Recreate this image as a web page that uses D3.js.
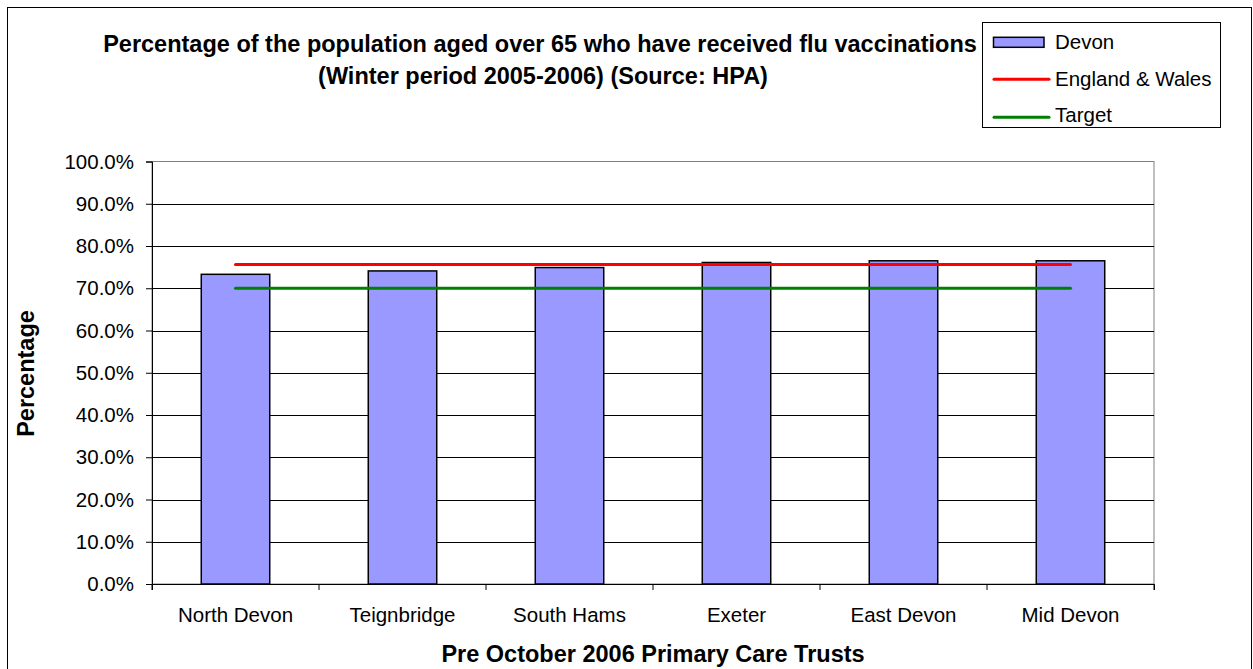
<!DOCTYPE html>
<html>
<head>
<meta charset="utf-8">
<script src="https://cdn.jsdelivr.net/npm/d3@7"></script>
<style>
  body { margin: 0; background: #fff; }
  svg { display: block; font-family: "Liberation Sans", Arial, sans-serif; }
</style>
</head>
<body>
<svg id="chart" width="1253" height="669"></svg>
<script>
// Flu vaccination uptake, over-65s, winter 2005-2006
const categories = ["North Devon", "Teignbridge", "South Hams", "Exeter", "East Devon", "Mid Devon"];
const devonValues = [73.3, 74.1, 74.9, 76.1, 76.5, 76.5];
const englandWales = [75.6, 75.6, 75.6, 75.6, 75.6, 75.6];
const target = [70.0, 70.0, 70.0, 70.0, 70.0, 70.0];
const yTicks = [0, 10, 20, 30, 40, 50, 60, 70, 80, 90, 100];
const legendItems = ["Devon", "England & Wales", "Target"];

const FONT = "Liberation Sans, Arial, sans-serif";
const svg = d3.select("#chart");
const plot = { left: 152, right: 1154, top: 161.5, bottom: 584 };

// outer chart frame
svg.append("rect")
  .attr("x", 7.5).attr("y", 7.5)
  .attr("width", 1244).attr("height", 670)
  .attr("fill", "#fff").attr("stroke", "#000").attr("stroke-width", 1);

const x = d3.scaleBand().domain(categories).range([plot.left, plot.right]).paddingInner(0.59).paddingOuter(0.295);
const xc = d3.scaleBand().domain(categories).range([plot.left, plot.right]);
const y = d3.scaleLinear().domain([0, 100]).range([plot.bottom, plot.top]);

// plot area border
svg.append("rect")
  .attr("x", plot.left).attr("y", plot.top)
  .attr("width", plot.right - plot.left).attr("height", plot.bottom - plot.top)
  .attr("fill", "none").attr("stroke", "#808080").attr("stroke-width", 1);

// horizontal gridlines
svg.append("g").selectAll("line").data(yTicks.filter(t => t > 0 && t < 100)).join("line")
  .attr("x1", plot.left).attr("x2", plot.right)
  .attr("y1", d => Math.round(y(d)) + 0.5).attr("y2", d => Math.round(y(d)) + 0.5)
  .attr("stroke", "#000").attr("stroke-width", 1);

// y axis
const yAxis = d3.axisLeft(y).tickValues(yTicks).tickSize(6).tickPadding(12)
  .tickFormat(d => d.toFixed(1) + "%");
const gy = svg.append("g").attr("transform", `translate(${plot.left},0)`).call(yAxis);
gy.attr("font-family", FONT).attr("font-size", 20.5);
gy.select(".domain").attr("stroke", "#000");
gy.selectAll(".tick line").attr("stroke", "#000");
gy.selectAll(".tick text").attr("fill", "#000");

// x axis
const xAxis = d3.axisBottom(xc).tickSize(6).tickPadding(17.5);
const gx = svg.append("g").attr("transform", `translate(0,${plot.bottom})`).call(xAxis);
gx.attr("font-family", FONT).attr("font-size", 20.5);
gx.select(".domain").attr("stroke", "#000");
gx.selectAll(".tick line").attr("stroke", "#000")
  .attr("transform", `translate(${xc.bandwidth() / 2},0)`);
gx.selectAll(".tick text").attr("fill", "#000");
// boundary tick at the left end of the category axis
svg.append("line")
  .attr("x1", plot.left).attr("x2", plot.left)
  .attr("y1", plot.bottom).attr("y2", plot.bottom + 6).attr("stroke", "#000");

// bars
svg.append("g").selectAll("rect").data(devonValues).join("rect")
  .attr("x", (d, i) => x(categories[i]))
  .attr("y", d => y(d))
  .attr("width", x.bandwidth())
  .attr("height", d => y(0) - y(d))
  .attr("fill", "#9999FF")
  .attr("stroke", "#000").attr("stroke-width", 1.5);

// reference lines
const line = d3.line()
  .x((d, i) => xc(categories[i]) + xc.bandwidth() / 2)
  .y(d => y(d));
svg.append("path").datum(englandWales).attr("d", line)
  .attr("fill", "none").attr("stroke", "#FF0000").attr("stroke-width", 3).attr("stroke-linecap", "round");
svg.append("path").datum(target).attr("d", line)
  .attr("fill", "none").attr("stroke", "#008000").attr("stroke-width", 3).attr("stroke-linecap", "round");

// title
const title = svg.append("text").attr("text-anchor", "middle")
  .attr("font-weight", "bold").attr("font-size", 23.5).attr("fill", "#000");
title.append("tspan").attr("x", 540).attr("y", 52)
  .text("Percentage of the population aged over 65 who have received flu vaccinations");
title.append("tspan").attr("x", 543).attr("y", 84)
  .text("(Winter period 2005-2006) (Source: HPA)");

// axis titles
svg.append("text").attr("x", (plot.left + plot.right) / 2).attr("y", 662)
  .attr("text-anchor", "middle").attr("font-weight", "bold").attr("font-size", 23.5)
  .text("Pre October 2006 Primary Care Trusts");
svg.append("text").attr("transform", "translate(33.5,373.5) rotate(-90)")
  .attr("text-anchor", "middle").attr("font-weight", "bold").attr("font-size", 23.5)
  .text("Percentage");

// legend
const lg = svg.append("g");
lg.append("rect").attr("x", 982.5).attr("y", 22.5).attr("width", 238).attr("height", 105)
  .attr("fill", "#fff").attr("stroke", "#000").attr("stroke-width", 1);
const rowY = [42.3, 79.3, 117.3];
lg.append("rect").attr("x", 993.5).attr("y", rowY[0] - 5).attr("width", 50.5).attr("height", 10)
  .attr("fill", "#9999FF").attr("stroke", "#000").attr("stroke-width", 1.5);
lg.append("line").attr("x1", 994).attr("x2", 1049).attr("y1", rowY[1]).attr("y2", rowY[1])
  .attr("stroke", "#FF0000").attr("stroke-width", 3).attr("stroke-linecap", "round");
lg.append("line").attr("x1", 994).attr("x2", 1049).attr("y1", rowY[2]).attr("y2", rowY[2])
  .attr("stroke", "#008000").attr("stroke-width", 3).attr("stroke-linecap", "round");
lg.selectAll("text.item").data(legendItems).join("text")
  .attr("class", "item")
  .attr("x", 1055).attr("y", (d, i) => [48.5, 86, 122][i])
  .attr("font-size", 20.5).attr("fill", "#000")
  .text(d => d);
</script>
</body>
</html>
